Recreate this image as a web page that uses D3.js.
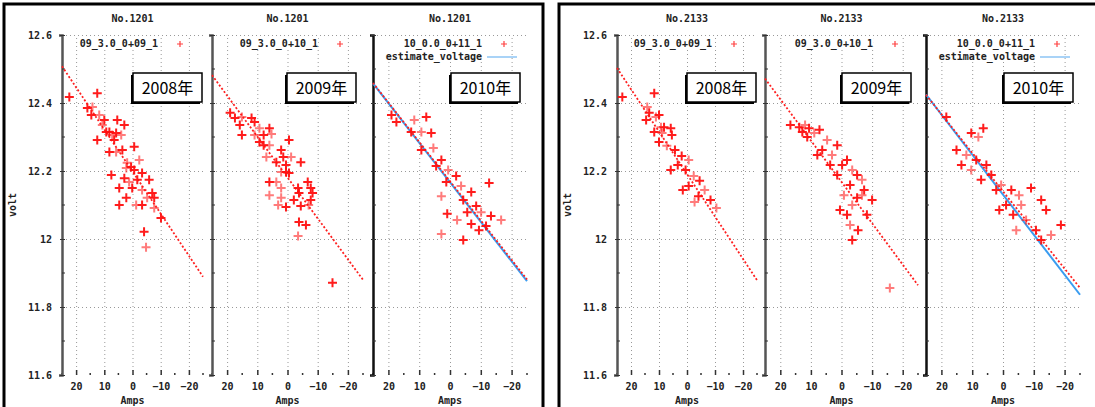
<!DOCTYPE html>
<html>
<head>
<meta charset="utf-8">
<script src="https://cdn.jsdelivr.net/npm/d3@7"></script>
<style>
  body { margin: 0; background: #fff; }
  text { font-family: "DejaVu Sans Mono", monospace; font-size: 10px; font-weight: bold; fill: #222; }
  .grid line { stroke: #999; stroke-dasharray: 1,3; }
  .grid path { display: none; }
  .year text { font-family: "Noto Sans CJK JP", sans-serif; font-size: 16px; font-weight: normal; fill: #000; }
</style>
</head>
<body>
<svg id="chart" width="1095" height="407"></svg>
<script>
// tick labels and categories
var xTicks = [20, 10, 0, -10, -20];
var xMinor = [25, 15, 5, -5, -15, -25];
var yTicks = [11.6, 11.8, 12, 12.2, 12.4, 12.6];
var yMinor = [11.7, 11.9, 12.1, 12.3, 12.5];
var years = ["2008年", "2009年", "2010年"];
var panelTitles = ["No.1201", "No.2133"];
var legendLabels = ["09_3.0_0+09_1", "09_3.0_0+10_1", "10_0.0_0+11_1"];
var estimateLabel = "estimate_voltage";

// No.1201 measurements (amps, volt)
var amps1201_2008 = [22.4, 12.5, 14.2, 16.0, 14.6, 11.8, 8.2, 5.8, 4.0, 12.5, 9.3, 7.2, 6.5, 8.2, 5.8, 3.6, -0.6, 1.9, 0.5, -0.6, 2.2, -3.4, 7.5, 1.2, 4.7, 0.1, -3.4, -7.0, 2.2, -1.3, -3.4, -7.7, -7.7, -10.1, -4.1, -4.8, 10.0, 2.9, -2.4, -5.9, 4.7, 10.7, 5.4, -1.7, -5.2, 2.9];
var volt1201_2008 = [12.418, 12.429, 12.388, 12.385, 12.365, 12.365, 12.315, 12.312, 12.306, 12.291, 12.315, 12.306, 12.291, 12.256, 12.256, 12.262, 12.271, 12.224, 12.212, 12.203, 12.209, 12.194, 12.188, 12.168, 12.15, 12.15, 12.144, 12.135, 12.121, 12.1, 12.1, 12.121, 12.091, 12.062, 12.021, 11.976, 12.35, 12.335, 12.232, 12.174, 12.1, 12.335, 12.35, 12.174, 12.121, 12.179];
var amps1201_2009 = [19.0, 17.4, 15.1, 15.8, 10.9, 9.3, 6.0, 15.1, 10.9, 7.9, 11.9, 5.3, 9.3, 7.9, 6.0, -0.5, 2.1, 7.0, 1.4, 3.7, -1.2, 0.5, -4.4, 2.1, 0.5, -0.5, 3.7, 6.0, -6.7, 2.1, -3.5, -7.7, 6.0, -3.8, -8.3, 2.1, -2.1, -7.7, 3.1, 0.5, -4.4, -7.0, -3.8, -6.1, -3.5, -14.9];
var volt1201_2009 = [12.371, 12.356, 12.359, 12.335, 12.344, 12.326, 12.326, 12.306, 12.306, 12.306, 12.356, 12.309, 12.285, 12.276, 12.276, 12.291, 12.262, 12.241, 12.241, 12.226, 12.241, 12.218, 12.226, 12.197, 12.197, 12.194, 12.168, 12.168, 12.168, 12.15, 12.15, 12.15, 12.129, 12.135, 12.135, 12.121, 12.115, 12.115, 12.1, 12.094, 12.097, 12.1, 12.05, 12.041, 12.009, 11.871];
var amps1201_2010 = [19.0, 17.4, 11.6, 7.7, 12.6, 9.3, 6.1, 9.3, 5.4, 2.8, 4.5, 0.6, -2.0, 1.2, -3.6, -6.9, -12.7, 2.8, -4.3, -8.5, -10.1, -13.3, 0.9, -2.3, -6.9, -9.4, 2.8, -4.3, -11.7, -16.6, -5.6];
var volt1201_2010 = [12.365, 12.344, 12.35, 12.359, 12.315, 12.315, 12.312, 12.262, 12.268, 12.232, 12.215, 12.203, 12.185, 12.168, 12.156, 12.138, 12.165, 12.126, 12.115, 12.097, 12.079, 12.068, 12.074, 12.056, 12.044, 12.026, 12.015, 11.997, 12.038, 12.056, 12.079];

// No.2133 measurements (amps, volt)
var amps2133_2008 = [23.1, 11.7, 14.2, 13.5, 14.6, 11.1, 10.0, 11.7, 9.3, 8.2, 5.8, 8.9, 5.4, 10.0, 7.2, 4.3, 1.9, -0.6, 3.3, 0.5, -2.4, -4.5, -0.6, -6.3, -4.1, -8.4, -2.7, 1.5, 5.8, -10.5];
var volt2133_2008 = [12.418, 12.429, 12.388, 12.371, 12.35, 12.359, 12.365, 12.315, 12.329, 12.329, 12.326, 12.312, 12.306, 12.285, 12.274, 12.262, 12.244, 12.232, 12.218, 12.203, 12.185, 12.171, 12.156, 12.144, 12.126, 12.115, 12.109, 12.144, 12.203, 12.091];
var amps2133_2009 = [16.7, 13.8, 11.9, 10.6, 12.8, 8.9, 7.2, 11.2, 4.7, 1.4, 6.3, 3.1, -1.8, -0.2, -3.5, 1.4, -5.1, -6.7, -2.8, -7.4, -0.8, -5.1, -10.0, -3.5, 0.5, -8.3, -2.8, -5.4, -3.5, -15.8, 7.9, 3.7, -6.7, -1.8];
var volt2133_2009 = [12.335, 12.329, 12.335, 12.326, 12.315, 12.312, 12.321, 12.3, 12.291, 12.276, 12.262, 12.247, 12.232, 12.218, 12.203, 12.188, 12.188, 12.174, 12.159, 12.144, 12.129, 12.121, 12.115, 12.1, 12.085, 12.071, 12.041, 12.026, 11.997, 11.856, 12.247, 12.218, 12.129, 12.071];
var amps2133_2010 = [18.4, 10.3, 8.0, 6.4, 15.1, 11.9, 8.7, 5.4, 10.3, 3.8, 7.1, 0.6, 2.2, -2.7, -5.2, -9.1, -1.0, -5.9, -12.4, -3.3, -7.5, -14.0, -10.7, -15.6, -12.4, -18.8, -4.3, 1.2, 13.5];
var volt2133_2010 = [12.359, 12.312, 12.3, 12.326, 12.262, 12.247, 12.232, 12.218, 12.203, 12.188, 12.174, 12.159, 12.144, 12.144, 12.129, 12.15, 12.1, 12.1, 12.115, 12.071, 12.056, 12.085, 12.026, 12.012, 11.997, 12.041, 12.026, 12.085, 12.218];

// fitted lines: volt at amps = 25 and amps = -25
var fitAmps = [25, -25];
var fitVolt1201 = [[12.508, 11.889], [12.482, 11.880], [12.459, 11.881]];
var fitVolt2133 = [[12.503, 11.879], [12.472, 11.864], [12.424, 11.856]];
var estimateVolt1201 = [12.458, 11.876];
var estimateVolt2133 = [12.425, 11.836];

var svg = d3.select("#chart");

var panels = [
  { x0: 4, x1: 543, title: panelTitles[0],
    plots: [[62, 203], [212, 363], [373, 527]],
    amps: [amps1201_2008, amps1201_2009, amps1201_2010],
    volt: [volt1201_2008, volt1201_2009, volt1201_2010],
    fit: fitVolt1201, est: estimateVolt1201 },
  { x0: 559, x1: 1100, title: panelTitles[1],
    plots: [[617, 757], [765, 918], [926, 1080]],
    amps: [amps2133_2008, amps2133_2009, amps2133_2010],
    volt: [volt2133_2008, volt2133_2009, volt2133_2010],
    fit: fitVolt2133, est: estimateVolt2133 }
];

var plotTop = 35, plotBottom = 375;
var y = d3.scaleLinear().domain([11.6, 12.6]).range([plotBottom, plotTop]);

panels.forEach(function(p) {
  // outer frame
  svg.append("rect")
    .attr("x", p.x0).attr("y", 4)
    .attr("width", p.x1 - p.x0).attr("height", 420)
    .attr("fill", "none").attr("stroke", "#000").attr("stroke-width", 3);

  // y label
  svg.append("text")
    .attr("transform", `translate(${p.x0 + 12}, 205) rotate(-90)`)
    .attr("text-anchor", "middle")
    .attr("font-size", "9px")
    .text("volt");

  p.plots.forEach(function(r, i) {
    var x = d3.scaleLinear().domain([25, -25]).range(r);
    var g = svg.append("g");

    // grid
    g.append("g").attr("class", "grid")
      .attr("transform", `translate(0, ${plotBottom})`)
      .call(d3.axisBottom(x).tickValues(xTicks).tickSize(-(plotBottom - plotTop)).tickFormat(""));
    g.append("g").attr("class", "grid")
      .attr("transform", `translate(${r[0]}, 0)`)
      .call(d3.axisLeft(y).tickValues(yTicks.slice(1)).tickSize(-(r[1] - r[0])).tickFormat(""));

    // x ticks + labels
    var xAxis = g.append("g")
      .attr("transform", `translate(0, ${plotBottom})`)
      .call(d3.axisBottom(x).tickValues(xTicks).tickSize(-5).tickPadding(8).tickFormat(d3.format("d")));
    xAxis.select(".domain").remove();
    xAxis.selectAll("line").attr("stroke", "#333").attr("stroke-width", 1.5);
    xAxis.selectAll("text").attr("font-size", "10px").attr("font-family", "DejaVu Sans Mono").attr("fill", "#222").attr("font-weight", "bold");

    g.selectAll(".xminor")
      .data(xMinor)
      .enter().append("line")
      .attr("x1", d => x(d)).attr("x2", d => x(d))
      .attr("y1", plotBottom - 2).attr("y2", plotBottom)
      .attr("stroke", "#333").attr("stroke-width", 1.5);

    g.append("text")
      .attr("x", (r[0] + r[1]) / 2).attr("y", 404)
      .attr("text-anchor", "middle")
      .attr("font-size", "9px")
      .text("Amps");

    // y axis
    var yAxis = g.append("g")
      .attr("transform", `translate(${r[0]}, 0)`)
      .call(d3.axisLeft(y).tickValues(yTicks).tickSize(3).tickPadding(7)
        .tickFormat(i === 0 ? d3.format("") : ""));
    yAxis.select(".domain").attr("stroke", i === 2 ? "#111" : "#555").attr("stroke-width", 2.5);
    yAxis.selectAll("line").attr("stroke", "#333").attr("x2", 3).attr("x1", -2);
    yAxis.selectAll("text").attr("font-size", "10px").attr("font-family", "DejaVu Sans Mono").attr("fill", "#222").attr("font-weight", "bold");

    g.selectAll(".yminor")
      .data(yMinor)
      .enter().append("line")
      .attr("x1", r[0]).attr("x2", r[0] + 3)
      .attr("y1", d => y(d)).attr("y2", d => y(d))
      .attr("stroke", "#333");

    // title
    g.append("text")
      .attr("x", (r[0] + r[1]) / 2).attr("y", 22)
      .attr("text-anchor", "middle")
      .attr("font-size", "9px")
      .text(p.title);

    var line = d3.line().x(d => x(d[0])).y(d => y(d[1]));

    // estimate line (third plot)
    if (i === 2) {
      g.append("path")
        .datum(fitAmps.map((a, k) => [a, p.est[k]]))
        .attr("d", line)
        .attr("fill", "none")
        .attr("stroke", "#3a9cf0")
        .attr("stroke-width", 2);
    }

    // red fit line
    g.append("path")
      .datum(fitAmps.map((a, k) => [a, p.fit[i][k]]))
      .attr("d", line)
      .attr("fill", "none")
      .attr("stroke", "#ff2020")
      .attr("stroke-width", 1.8)
      .attr("stroke-dasharray", "2,2");

    // points
    var pts = p.amps[i].map((a, k) => [a, p.volt[i][k]]);
    g.selectAll(".pt")
      .data(pts)
      .enter().append("path")
      .attr("transform", d => `translate(${x(d[0])}, ${y(d[1])})`)
      .attr("d", "M-4.5,0H4.5M0,-4.5V4.5")
      .attr("stroke", "#ff1010")
      .attr("stroke-width", 2)
      .attr("opacity", (d, k) => k % 3 === 2 ? 0.55 : 0.95);

    // legend
    var lx = r[1] - 45;
    g.append("rect")
      .attr("x", lx - (i === 2 ? 96 : 80)).attr("y", 36)
      .attr("width", i === 2 ? 96 : 80).attr("height", i === 2 ? 26 : 14)
      .attr("fill", "#fff");
    g.append("text")
      .attr("x", lx).attr("y", 47)
      .attr("text-anchor", "end")
      .text(legendLabels[i]);
    g.append("path")
      .attr("transform", `translate(${r[1] - 23}, 44)`)
      .attr("d", "M-3,0H3M0,-3V3")
      .attr("stroke", "#ff4040").attr("stroke-width", 1.2);
    if (i === 2) {
      g.append("text")
        .attr("x", lx).attr("y", 60)
        .attr("text-anchor", "end")
        .text(estimateLabel);
      g.append("line")
        .attr("x1", r[1] - 40).attr("x2", r[1] - 10)
        .attr("y1", 57).attr("y2", 57)
        .attr("stroke", "#8cc4f4").attr("stroke-width", 1.5);
    }

    // year box with a small shadow on the left and bottom
    var bx = r[1] - (i === 0 ? 70 : 76);
    var yb = g.append("g").attr("class", "year");
    yb.append("rect")
      .attr("x", bx - 2).attr("y", 75)
      .attr("width", 69).attr("height", 29)
      .attr("fill", "#000");
    yb.append("rect")
      .attr("x", bx).attr("y", 73)
      .attr("width", 69).attr("height", 29)
      .attr("fill", "#fff").attr("stroke", "#000").attr("stroke-width", 1.5);
    yb.append("text")
      .attr("x", bx + 34.5).attr("y", 94)
      .attr("text-anchor", "middle")
      .text(years[i]);
  });
});
</script>
</body>
</html>
